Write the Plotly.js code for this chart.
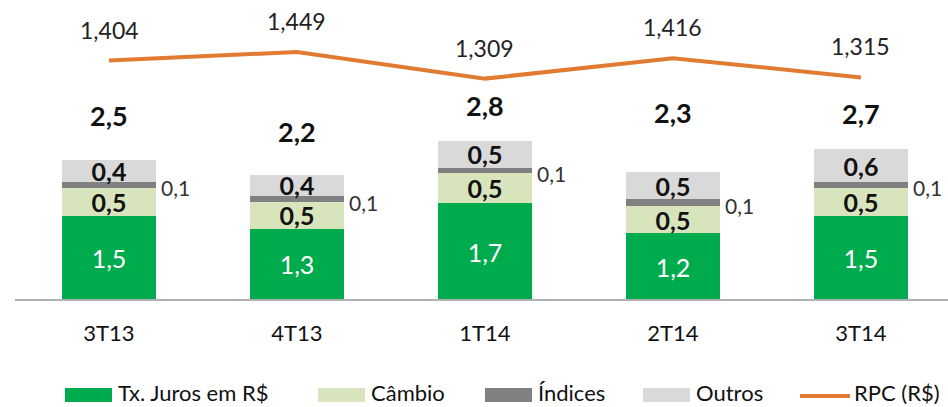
<!DOCTYPE html>
<html>
<head>
<meta charset="utf-8">
<script src="https://cdn.plot.ly/plotly-3.0.1.min.js"></script>
<style>
html,body{margin:0;padding:0;background:#fff;}
#chart{width:948px;height:407px;}
</style>
</head>
<body>
<div id="chart"></div>
<script>
// ---- data ----
const categories = ['3T13', '4T13', '1T14', '2T14', '3T14'];
const txJuros = [1.50, 1.27, 1.73, 1.19, 1.50];
const cambio  = [0.50, 0.48, 0.54, 0.48, 0.50];
const indices = [0.11, 0.10, 0.09, 0.13, 0.11];
const outros  = [0.39, 0.39, 0.48, 0.48, 0.58];
const rpc     = [1.404, 1.449, 1.309, 1.416, 1.315];
const seriesNames = ['Tx. Juros em R$', 'Câmbio', 'Índices', 'Outros', 'RPC (R$)'];

// ---- styles ----
const colors = ['#00AB4E', '#D8E4BC', '#808080', '#D9D9D9', '#E07B31'];
const FONT = 'Lato, "Open Sans", "DejaVu Sans", sans-serif';
const TXT = '#111111';

const totals = categories.map((c, i) => txJuros[i] + cambio[i] + indices[i] + outros[i]);
const fmt1 = v => v.toFixed(1).replace('.', ',');
const fmt3 = v => v.toFixed(3).replace('.', ',');

const barCommon = {type: 'bar', x: categories, width: 0.5, showlegend: false,
  cliponaxis: false, constraintext: 'none', textposition: 'inside',
  insidetextanchor: 'middle', hoverinfo: 'skip'};

const traces = [
  Object.assign({}, barCommon, {y: txJuros, name: seriesNames[0], marker: {color: colors[0]},
    text: txJuros.map(fmt1), textfont: {family: FONT, size: 25, color: '#ffffff'}}),
  Object.assign({}, barCommon, {y: cambio, name: seriesNames[1], marker: {color: colors[1]},
    text: cambio.map(fmt1), textfont: {family: FONT, size: 25, color: TXT, weight: 'bold'}}),
  Object.assign({}, barCommon, {y: indices, name: seriesNames[2], marker: {color: colors[2]},
    text: indices.map(() => ''), textposition: 'none'}),
  Object.assign({}, barCommon, {y: outros, name: seriesNames[3], marker: {color: colors[3]},
    text: outros.map(fmt1), textfont: {family: FONT, size: 25, color: TXT, weight: 'bold'}}),
  {type: 'scatter', mode: 'lines', x: categories, y: rpc, yaxis: 'y2', name: seriesNames[4],
    line: {color: colors[4], width: 4}, showlegend: false, hoverinfo: 'skip', cliponaxis: false}
];

const annotations = [];
// totals
const totalShift = [45, 43, 35, 60, 36];
categories.forEach((c, i) => {
  annotations.push({x: c, y: totals[i], xref: 'x', yref: 'y', text: '<b>' + fmt1(totals[i]) + '</b>',
    showarrow: false, yanchor: 'middle', yshift: totalShift[i],
    font: {family: FONT, size: 27, color: TXT}});
  // indices label outside right
  annotations.push({x: c, y: txJuros[i] + cambio[i] + indices[i] / 2, xref: 'x', yref: 'y',
    text: fmt1(indices[i]), showarrow: false, xanchor: 'left', yanchor: 'middle', xshift: 50, yshift: -3,
    font: {family: FONT, size: 21, color: '#333333'}});
  // RPC labels
  annotations.push({x: c, y: rpc[i], xref: 'x', yref: 'y2', text: fmt3(rpc[i]),
    showarrow: false, yanchor: 'middle', yshift: 31,
    font: {family: FONT, size: 23, color: '#222222'}});
});

// custom legend
const L = 15, W = 933, H = 300;
const px = p => (p - L) / W;
const py = p => (H - p) / H;
const swatchLeft = [65, 318, 485, 643, 800];
const shapes = [];
seriesNames.forEach((n, i) => {
  if (i < 4) {
    shapes.push({type: 'rect', xref: 'paper', yref: 'paper', x0: px(swatchLeft[i]), x1: px(swatchLeft[i] + 47),
      y0: py(402), y1: py(388), fillcolor: colors[i], line: {width: 0}});
  } else {
    shapes.push({type: 'line', xref: 'paper', yref: 'paper', x0: px(swatchLeft[i]), x1: px(swatchLeft[i] + 50),
      y0: py(396), y1: py(396), line: {color: colors[i], width: 4}});
  }
  annotations.push({xref: 'paper', yref: 'paper', x: px(swatchLeft[i] + (i < 4 ? 52 : 53)), y: py(392),
    text: n, showarrow: false, xanchor: 'left', yanchor: 'middle', borderpad: 0,
    font: {family: FONT, size: 22, color: TXT}});
});
// x axis baseline
shapes.push({type: 'line', xref: 'paper', yref: 'paper', x0: 0, x1: 1, y0: 0, y1: 0,
  line: {color: '#B0B0B0', width: 2}});

const layout = {
  width: 948, height: 407,
  margin: {l: L, r: 0, t: 0, b: 107},
  paper_bgcolor: '#ffffff', plot_bgcolor: '#ffffff',
  barmode: 'stack',
  showlegend: false,
  font: {family: FONT, color: TXT},
  xaxis: {type: 'category', range: [-0.5, 4.463], showgrid: false, zeroline: false, showline: false,
    ticks: '', ticklabelstandoff: 18, tickfont: {family: FONT, size: 22, color: TXT}, fixedrange: true},
  yaxis: {range: [0, 300 / 56], visible: false, fixedrange: true},
  yaxis2: {range: [0.1438, 1.7227], overlaying: 'y', visible: false, fixedrange: true},
  annotations: annotations,
  shapes: shapes
};

Plotly.newPlot('chart', traces, layout, {displayModeBar: false, staticPlot: true});
</script>
</body>
</html>
